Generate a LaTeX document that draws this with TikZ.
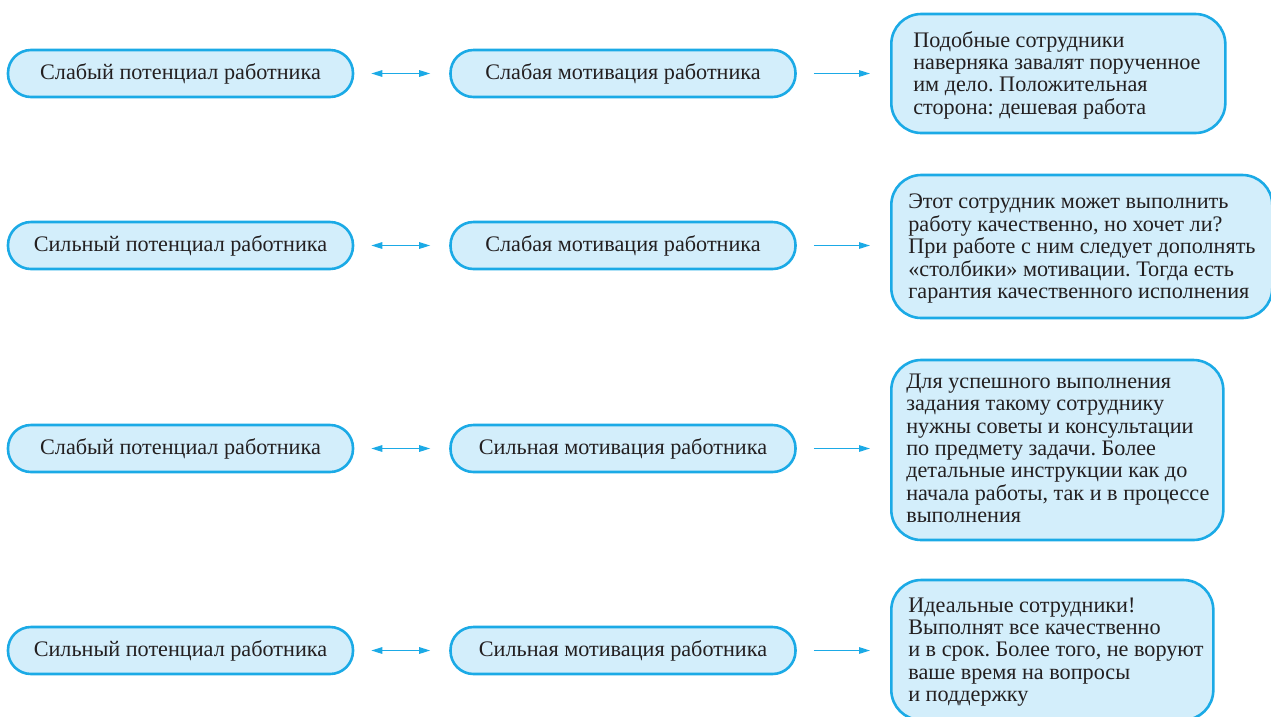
\documentclass[tikz,border=0pt]{standalone}
\usepackage{fontspec}
\setmainfont{Liberation Serif}
\usetikzlibrary{arrows.meta}
\definecolor{edgeblue}{HTML}{1BAAE6}
\definecolor{fillblue}{HTML}{D3EEFB}
\definecolor{txt}{HTML}{231F20}
\newcommand{\boxlines}[3]{\raisebox{#2}[\height][\depth]{\makebox[#1][l]{\begin{tabular}{@{}l@{}}#3\end{tabular}}}}
\tikzset{
  pill/.style={draw=edgeblue, fill=fillblue, line width=2.6pt, rounded corners=23pt,
    minimum width=345pt, minimum height=47pt, inner sep=0pt,
    font=\fontsize{22.2}{22.3}\selectfont, text=txt},
  infobox/.style={draw=edgeblue, fill=fillblue, line width=2.6pt, rounded corners=30pt,
    anchor=west, inner ysep=0pt,
    font=\fontsize{22.2}{22.3}\selectfont\frenchspacing, text=txt},
  link/.style={draw=edgeblue, line width=1.4pt, shorten <=17pt, shorten >=19pt},
  tip/.style={-{Triangle[length=11pt,width=6.5pt]}},
  dtip/.style={{Triangle[length=11pt,width=6.5pt]}-{Triangle[length=11pt,width=6.5pt]}}
}
\begin{document}
\begin{tikzpicture}[x=1pt,y=-1pt]
\useasboundingbox (0,0) rectangle (1271,716);
\clip (0,0) rectangle (1271,716);
\fill[white] (0,0) rectangle (1271,716);

% row 1
\node[pill] (l1) at (180.5,73.5) {Слабый потенциал работника};
\node[pill] (m1) at (623,73.5) {Слабая мотивация работника};
\node[infobox, minimum height=119pt, inner xsep=22pt] (r1) at (890,73.5)
  {\boxlines{290pt}{-2.5pt}{Подобные сотрудники\\наверняка завалят порученное\\им дело. Положительная\\сторона: дешевая работа}};

% row 2
\node[pill] (l2) at (180.5,245.5) {Сильный потенциал работника};
\node[pill] (m2) at (623,245.5) {Слабая мотивация работника};
\node[infobox, minimum height=143pt, inner xsep=17pt] (r2) at (890,246.5)
  {\boxlines{347pt}{-2.5pt}{Этот сотрудник может выполнить\\работу качественно, но хочет ли?\\При работе с ним следует дополнять\\«столбики» мотивации. Тогда есть\\гарантия качественного исполнения}};

% row 3
\node[pill] (l3) at (180.5,448.5) {Слабый потенциал работника};
\node[pill] (m3) at (623,448.5) {Сильная мотивация работника};
\node[infobox, minimum height=180pt, inner xsep=15pt] (r3) at (890,450)
  {\boxlines{302pt}{-1pt}{Для успешного выполнения\\задания такому сотруднику\\нужны советы и консультации\\по предмету задачи. Более\\детальные инструкции как до\\начала работы, так и в процессе\\выполнения}};

% row 4
\node[pill] (l4) at (180.5,650.5) {Сильный потенциал работника};
\node[pill] (m4) at (623,650.5) {Сильная мотивация работника};
\node[infobox, minimum height=140pt, inner xsep=17pt] (r4) at (890,650)
  {\boxlines{288pt}{-2.5pt}{Идеальные сотрудники!\\Выполнят все качественно\\и в срок. Более того, не воруют\\ваше время на вопросы\\и поддержку}};

% connectors
\foreach \i in {1,2,3,4}{
  \draw[link,dtip] (l\i.east) -- (m\i.west);
  \draw[link,tip,shorten >=20pt] (m\i.east) -- (m\i.east -| r\i.west);
}
\end{tikzpicture}
\end{document}
